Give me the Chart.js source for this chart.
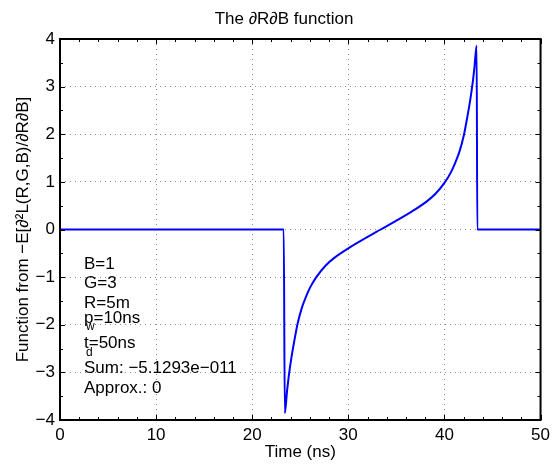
<!DOCTYPE html>
<html>
<head>
<meta charset="utf-8">
<script src="https://cdn.jsdelivr.net/npm/chart.js@4/dist/chart.umd.min.js"></script>
<style>
html,body{margin:0;padding:0;background:#fff;}
#wrap{width:555px;height:466px;position:relative;}
</style>
</head>
<body>
<div id="wrap"><canvas id="c" width="555" height="466"></canvas></div>
<script>
// Data
const timeNs = [0, 23.28, 23.39, 23.62, 23.82, 24.07, 24.37, 24.72, 25.17, 25.62, 26.07, 26.67, 27.62, 28.57, 30.07, 31.87, 33.37,
                34.87, 36.67, 38.17, 39.12, 40.07, 40.67, 41.12, 41.57, 42.02, 42.37, 42.67, 42.92, 43.12, 43.35, 43.42, 50];
const funcValues = [0, 0, -3.86, -3.4, -3.05, -2.7, -2.35, -1.98, -1.64, -1.40, -1.2, -1.0, -0.76, -0.59, -0.385, -0.17, 0,
                    0.17, 0.385, 0.59, 0.76, 1.0, 1.2, 1.40, 1.64, 1.98, 2.35, 2.7, 3.05, 3.4, 3.86, 0, 0];
const xTicks = [0, 10, 20, 30, 40, 50];
const yTicks = [-4, -3, -2, -1, 0, 1, 2, 3, 4];
const titleText = 'The \u2202R\u2202B function';
const xLabel = 'Time (ns)';
const yLabel = 'Function from \u2212E[\u2202\u00B2L(R,G,B)/\u2202R\u2202B]';
// annotation lines: [main, subscript, rest]
const infoLines = [
  ['B=1', '', ''],
  ['G=3', '', ''],
  ['R=5m', '', ''],
  ['p', 'w', '=10ns'],
  ['t', 'd', '=50ns'],
  ['Sum: \u22125.1293e\u2212011', '', ''],
  ['Approx.: 0', '', '']
];

const FONT = '"Liberation Sans", Arial, Helvetica, sans-serif';
const FS = 17;
const fmt = v => (v < 0 ? '\u2212' + Math.abs(v) : String(v));

const deco = {
  id: 'deco',
  afterDraw(chart) {
    const ctx = chart.ctx, a = chart.chartArea;
    const xs = chart.scales.x, ys = chart.scales.y;
    ctx.save();
    ctx.strokeStyle = '#000';
    ctx.lineWidth = 1;
    ctx.beginPath();
    for (let v = 0; v <= 50; v += 2) {
      const px = Math.round(xs.getPixelForValue(v)) + 0.5;
      const len = (v % 10 === 0) ? 5 : 3;
      ctx.moveTo(px, a.bottom); ctx.lineTo(px, a.bottom - len);
      ctx.moveTo(px, a.top); ctx.lineTo(px, a.top + len);
    }
    for (let v = -4; v <= 4; v += 0.5) {
      const py = Math.round(ys.getPixelForValue(v)) + 0.5;
      const len = (Math.abs(v % 1) < 1e-9) ? 5 : 3;
      ctx.moveTo(a.left, py); ctx.lineTo(a.left + len, py);
      ctx.moveTo(a.right, py); ctx.lineTo(a.right - len, py);
    }
    ctx.stroke();
    ctx.lineWidth = 2;
    ctx.strokeRect(a.left, a.top, a.right - a.left, a.bottom - a.top);

    ctx.fillStyle = '#000';
    ctx.font = FS + 'px ' + FONT;
    ctx.textAlign = 'center';
    ctx.textBaseline = 'alphabetic';
    ctx.fillText(titleText, 284, 24);
    ctx.fillText(xLabel, (a.left + a.right) / 2, 457);
    ctx.save();
    ctx.translate(28, (a.top + a.bottom) / 2);
    ctx.rotate(-Math.PI / 2);
    ctx.fillText(yLabel, 0, 0);
    ctx.restore();

    ctx.textAlign = 'left';
    const baselines = [269, 288, 308, 322.5, 348, 373, 392.5];
    infoLines.forEach((ln, i) => {
      const y = baselines[i];
      const x0 = 84;
      ctx.font = FS + 'px ' + FONT;
      ctx.fillText(ln[0], x0, y);
      if (ln[1]) {
        const w0 = ctx.measureText(ln[0]).width;
        ctx.font = '12px ' + FONT;
        ctx.fillText(ln[1], x0 + 2, y + 7.5);
        ctx.font = FS + 'px ' + FONT;
        ctx.fillText(ln[2], x0 + w0, y);
      }
    });
    ctx.restore();
  }
};

new Chart(document.getElementById('c'), {
  type: 'line',
  data: {
    datasets: [{
      data: timeNs.map((t, i) => ({ x: t, y: funcValues[i] })),
      borderColor: '#0000ff',
      borderWidth: 2,
      pointRadius: 0,
      fill: false,
      cubicInterpolationMode: 'monotone'
    }]
  },
  options: {
    responsive: false,
    animation: false,
    layout: { padding: { top: 39, right: 12, left: 0, bottom: 0 } },
    plugins: { legend: { display: false }, title: { display: false }, tooltip: { enabled: false } },
    scales: {
      x: {
        type: 'linear', min: 0, max: 50,
        afterFit: s => { s.height = 46; },
        afterBuildTicks: s => { s.ticks = xTicks.map(v => ({ value: v })); },
        ticks: { font: { family: FONT, size: FS }, color: '#000', padding: 5, maxRotation: 0, callback: fmt },
        grid: { color: '#8a8a8a', lineWidth: 1, drawTicks: false },
        border: { display: false, dash: [1, 4] }
      },
      y: {
        type: 'linear', min: -4, max: 4,
        afterFit: s => { s.width = 60; },
        afterBuildTicks: s => { s.ticks = yTicks.map(v => ({ value: v })); },
        ticks: { font: { family: FONT, size: FS }, color: '#000', padding: 5, callback: fmt },
        grid: { color: '#8a8a8a', lineWidth: 1, drawTicks: false },
        border: { display: false, dash: [1, 4] }
      }
    }
  },
  plugins: [deco]
});
</script>
</body>
</html>
